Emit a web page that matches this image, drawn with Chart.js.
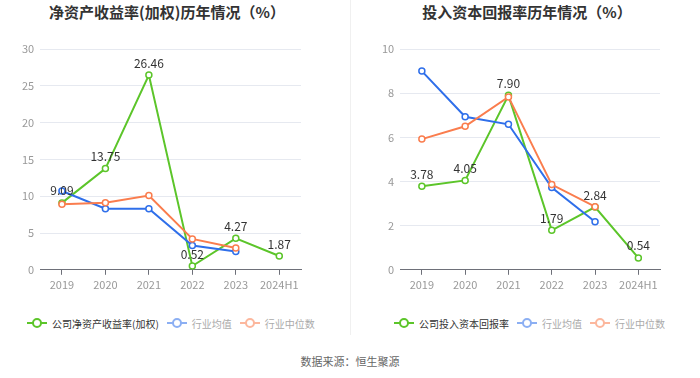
<!DOCTYPE html>
<html>
<head>
<meta charset="utf-8">
<script src="https://cdn.jsdelivr.net/npm/chart.js@4"></script>
<style>
body{margin:0;background:#fff;font-family:"Noto Sans CJK SC",sans-serif;}
#wrap{position:relative;width:700px;height:378px;overflow:hidden;}
.box{position:absolute;top:0;height:295px;}
.title{position:absolute;top:2px;width:330px;text-align:center;font-size:15px;font-weight:bold;color:#333;line-height:20px;white-space:nowrap;}
#divider{position:absolute;left:350px;top:0;width:1px;height:335px;background:#f0f0f0;}
.legend{position:absolute;top:315px;height:16px;display:flex;align-items:center;font-size:10px;white-space:nowrap;color:#aaa;}
.item{display:flex;align-items:center;margin-right:8px;}
.item.on{color:#333;}
.item.off .mk{opacity:0.55;}
.mk{position:relative;width:20px;height:10px;margin-right:5px;}
.mk:before{content:"";position:absolute;left:0;right:0;top:4px;height:2px;background:var(--c);}
.mk:after{content:"";position:absolute;left:5px;top:0;width:6px;height:6px;border:2px solid var(--c);border-radius:50%;background:#fff;}
#source{position:absolute;left:0;width:700px;top:353px;text-align:center;font-size:11px;color:#666;}
</style>
</head>
<body>
<div id="wrap">
  <div class="title" style="left:2px;">净资产收益率(加权)历年情况（%）</div>
  <div class="title" style="left:362px;">投入资本回报率历年情况（%）</div>
  <div class="box" style="left:0;width:330px;"><canvas id="roeChart"></canvas></div>
  <div class="box" style="left:350px;width:325px;"><canvas id="roicChart"></canvas></div>
  <div id="divider"></div>
  <div class="legend" style="left:27px;">
    <span class="item on"><span class="mk" style="--c:#5cc52a"></span>公司净资产收益率(加权)</span>
    <span class="item off"><span class="mk" style="--c:#2f6fea"></span>行业均值</span>
    <span class="item off"><span class="mk" style="--c:#fa7d4e"></span>行业中位数</span>
  </div>
  <div class="legend" style="left:394px;">
    <span class="item on"><span class="mk" style="--c:#5cc52a"></span>公司投入资本回报率</span>
    <span class="item off"><span class="mk" style="--c:#2f6fea"></span>行业均值</span>
    <span class="item off"><span class="mk" style="--c:#fa7d4e"></span>行业中位数</span>
  </div>
  <div id="source">数据来源：恒生聚源</div>
</div>
<script>
const years = ['2019', '2020', '2021', '2022', '2023', '2024H1'];

const roeCompany = [9.09, 13.75, 26.46, 0.52, 4.27, 1.87];
const roeMean = [10.7, 8.3, 8.3, 3.3, 2.5, null];
const roeMedian = [8.9, 9.1, 10.1, 4.2, 2.95, null];

const roicCompany = [3.78, 4.05, 7.90, 1.79, 2.84, 0.54];
const roicMean = [9.0, 6.93, 6.59, 3.73, 2.18, null];
const roicMedian = [5.92, 6.5, 7.83, 3.86, 2.86, null];

const GREEN = '#5cc52a', BLUE = '#2f6fea', ORANGE = '#fa7d4e';
const FONT = '"Noto Sans CJK SC", sans-serif';

// value labels above the company series
const valueLabels = {
  id: 'valueLabels',
  afterDatasetsDraw(chart) {
    const ctx = chart.ctx;
    const meta = chart.getDatasetMeta(0);
    const data = chart.data.datasets[0].data;
    ctx.save();
    ctx.font = '12px ' + FONT;
    ctx.fillStyle = '#333';
    ctx.textAlign = 'center';
    ctx.textBaseline = 'middle';
    meta.data.forEach((pt, i) => {
      ctx.fillText(data[i].toFixed(2), pt.x, pt.y - 12);
    });
    ctx.restore();
  }
};

const series = (label, data, color, order) => ({
  label,
  data,
  borderColor: color,
  backgroundColor: '#fff',
  borderWidth: 2,
  pointRadius: 3,
  pointBorderWidth: 1.5,
  pointBackgroundColor: '#fff',
  pointBorderColor: color,
  tension: 0,
  order
});

const makeChart = (id, label, company, mean, median, max, step, padLeft, padRight) => {
  const ctx = document.getElementById(id).getContext('2d');
  return new Chart(ctx, {
    type: 'line',
    data: {
      labels: years,
      datasets: [
        series(label, company, GREEN, 2),
        series('行业均值', mean, BLUE, 1),
        series('行业中位数', median, ORANGE, 0)
      ]
    },
    options: {
      responsive: true,
      maintainAspectRatio: false,
      animation: false,
      layout: { padding: { left: padLeft, right: padRight, top: 49, bottom: 1 } },
      plugins: {
        legend: { display: false },
        tooltip: { enabled: false }
      },
      scales: {
        x: {
          offset: true,
          grid: { display: true, drawOnChartArea: false, drawTicks: true, tickLength: 5, color: '#6e7079', offset: false },
          border: { display: true, color: '#6e7079' },
          ticks: { color: '#999', font: { size: 11, family: FONT }, padding: 3, maxRotation: 0, autoSkip: false }
        },
        y: {
          min: 0,
          max,
          ticks: { stepSize: step, color: '#999', font: { size: 11, family: FONT }, padding: 6 },
          grid: { color: '#e6e9f0', drawTicks: false },
          border: { display: false }
        }
      }
    },
    plugins: [valueLabels]
  });
};

makeChart('roeChart', '公司净资产收益率(加权)', roeCompany, roeMean, roeMedian, 30, 5, 16, 29);
makeChart('roicChart', '公司投入资本回报率', roicCompany, roicMean, roicMedian, 10, 2, 26, 15);
</script>
</body>
</html>
